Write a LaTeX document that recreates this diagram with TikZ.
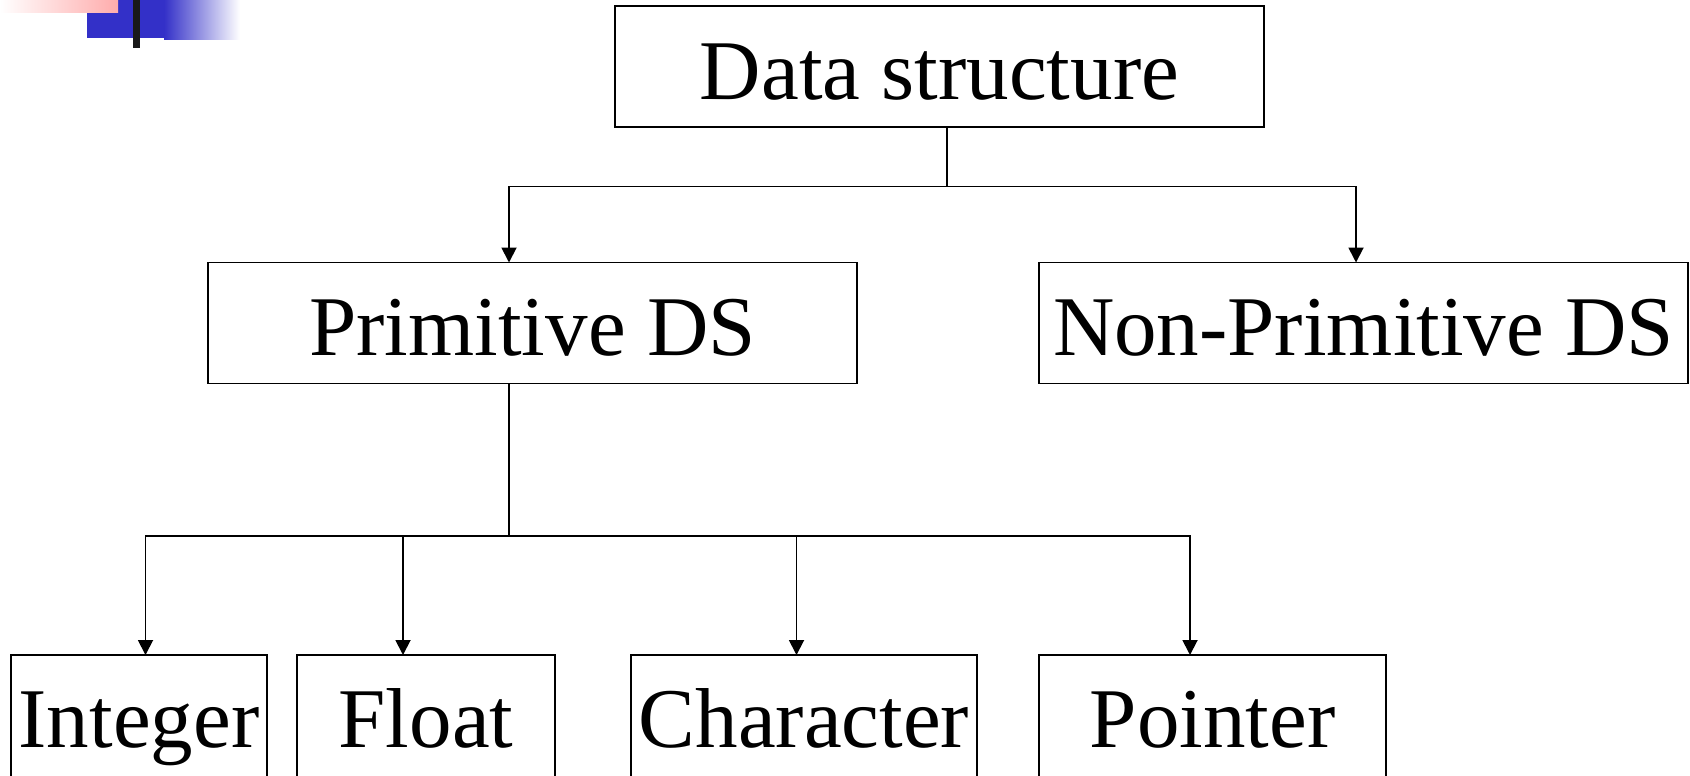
\documentclass[tikz,border=0pt]{standalone}
\usepackage{fontspec}
\setmainfont{Liberation Serif}
\usetikzlibrary{arrows.meta,calc}

\definecolor{slideblue}{RGB}{51,48,200}
\definecolor{slidepink}{RGB}{255,172,172}

\begin{document}
\begin{tikzpicture}[x=0.75pt,y=0.75pt,yscale=-1,xscale=1,
    dsbox/.style={draw,line width=1.4pt,inner sep=0pt,outer sep=0pt,minimum height=90.75pt,
        text height=56pt,text depth=7.5pt,font=\fontsize{63.75pt}{70pt}\selectfont},
    leafbox/.style={dsbox,minimum height=97.5pt,text depth=14.3pt},
    arr/.style={line width=1.4pt,-{Triangle[length=11.25pt,width=11.25pt]}},
    stem/.style={line width=1.4pt}]
    \useasboundingbox (0,0) rectangle (1690,775);

    %Shape: Rectangle (corner mark)
    \fill [slideblue] (87,0) rectangle (164,38);
    \shade [left color=slideblue,right color=white] (164,0) rectangle (240,39);
    \shade [left color=white,right color=slidepink] (0,0) rectangle (118,12);
    \fill [black!90] (133,0) rectangle (140,48);

    % Text Node
    \node [dsbox,minimum width=486.75pt] (ds) at (939.5,66.75) {Data structure};
    % Text Node
    \node [dsbox,minimum width=486.75pt] (prim) at (532.5,323) {Primitive DS};
    % Text Node
    \node [dsbox,minimum width=486.75pt] (nprim) at (1363.5,323) {Non-Primitive DS};
    % Text Node
    \node [leafbox,minimum width=192pt] (int) at (139,720) {Integer};
    % Text Node
    \node [leafbox,minimum width=193pt] (flt) at (426,720) {Float};
    % Text Node
    \node [leafbox,minimum width=260pt] (chr) at (804,720) {Character};
    % Text Node
    \node [leafbox,minimum width=260pt] (ptr) at (1212.5,720) {Pointer};

    %Straight Lines
    \coordinate (top) at (947,186.5);
    \draw [stem] (ds.south -| top) -- (top);
    \draw [arr] (top) -| ($(prim.north)+(-23.5,0)$);
    \draw [arr] (top) -| ($(nprim.north)+(-7.5,0)$);

    %Straight Lines
    \coordinate (mid) at (509,536);
    \draw [stem] (prim.south -| mid) -- (mid);
    \draw [arr] (mid) -| ($(int.north)+(6.5,0)$);
    \draw [arr] (mid) -| ($(flt.north)+(-23,0)$);
    \draw [arr] (mid) -| ($(chr.north)+(-7.5,0)$);
    \draw [arr] (mid) -| ($(ptr.north)+(-22.5,0)$);

\end{tikzpicture}
\end{document}
